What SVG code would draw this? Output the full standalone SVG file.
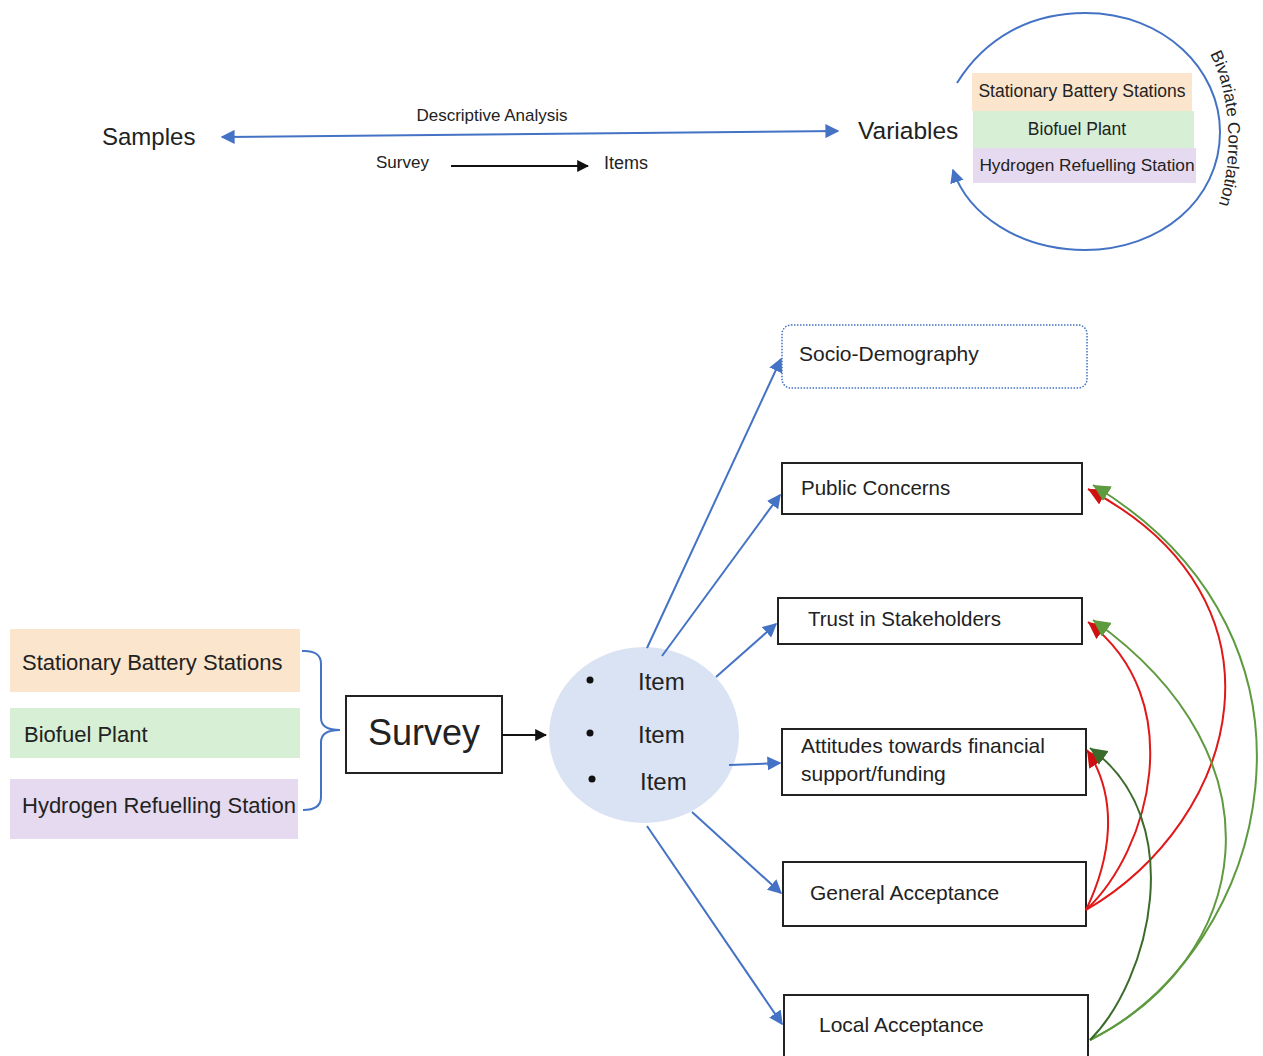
<svg xmlns="http://www.w3.org/2000/svg" width="1263" height="1056" viewBox="0 0 1263 1056">
  <style>
    text { font-family: "Liberation Sans", Arial, sans-serif; fill: #222; }
    .box { fill: #fff; stroke: #222; stroke-width: 2; }
    .blue { fill: none; stroke: #4472C4; stroke-width: 2; }
    .red { fill: none; stroke: #E01818; stroke-width: 2; }
    .green { fill: none; stroke: #5E9A3E; stroke-width: 2; }
    .dgreen { fill: none; stroke: #3A6B2A; stroke-width: 2; }
    .sbs { fill: #FBE5CC; }
    .bio { fill: #D6EFD5; }
    .hyd { fill: #E6DAF0; }
  </style>
  <defs>
    <marker id="ah-blue" viewBox="0 0 10 10" refX="9" refY="5" markerWidth="7" markerHeight="7" markerUnits="strokeWidth" orient="auto-start-reverse">
      <path d="M0,0 L10,5 L0,10 z" fill="#4472C4"/>
    </marker>
    <marker id="ah-black" viewBox="0 0 10 10" refX="9" refY="5" markerWidth="6" markerHeight="6" markerUnits="strokeWidth" orient="auto">
      <path d="M0,0 L10,5 L0,10 z" fill="#111"/>
    </marker>
    <marker id="ah-red" viewBox="0 0 10 10" refX="10" refY="5" markerWidth="8.5" markerHeight="8.5" markerUnits="strokeWidth" orient="auto">
      <path d="M0,0 L10,5 L0,10 z" fill="#D01010"/>
    </marker>
    <marker id="ah-green" viewBox="0 0 10 10" refX="10" refY="5" markerWidth="8.5" markerHeight="8.5" markerUnits="strokeWidth" orient="auto">
      <path d="M0,0 L10,5 L0,10 z" fill="#5E9A3E"/>
    </marker>
    <marker id="ah-dgreen" viewBox="0 0 10 10" refX="10" refY="5" markerWidth="8.5" markerHeight="8.5" markerUnits="strokeWidth" orient="auto">
      <path d="M0,0 L10,5 L0,10 z" fill="#3A6B2A"/>
    </marker>
    <path id="bivar-path" d="M1210,54 C1230,92 1238,165 1212,222"/>
  </defs>

  <!-- Overview strip -->
  <g id="samples"><text x="102" y="145" font-size="24">Samples</text></g>
  <g id="variables"><text x="858" y="139" font-size="24.5">Variables</text></g>
  <g id="survey-label"><text x="376" y="168" font-size="17">Survey</text></g>
  <g id="items-label"><text x="604" y="169" font-size="18">Items</text></g>

  <g id="variable-stack">
    <rect class="sbs" x="972" y="73" width="220" height="38"/>
    <rect class="bio" x="973" y="111" width="221" height="37"/>
    <rect class="hyd" x="973" y="148" width="223" height="35"/>
    <text x="1082" y="97" font-size="17.5" text-anchor="middle">Stationary Battery Stations</text>
    <text x="1077" y="135" font-size="17.5" text-anchor="middle">Biofuel Plant</text>
    <text x="1087" y="171" font-size="17.3" text-anchor="middle">Hydrogen Refuelling Station</text>
  </g>

  <g id="top-connectors">
    <line class="blue" x1="222" y1="137" x2="838" y2="131" marker-start="url(#ah-blue)" marker-end="url(#ah-blue)"/>
    <text x="492" y="121" font-size="17" text-anchor="middle">Descriptive Analysis</text>
    <line x1="451" y1="166" x2="588" y2="166" stroke="#111" stroke-width="2" marker-end="url(#ah-black)"/>
    <!-- bivariate loop round the variable stack -->
    <path class="blue" d="M957,83 C985,38 1030,13 1085,13 C1165,13 1220,70 1220,132 C1220,200 1160,250 1085,250 C1020,250 968,215 953,170" marker-end="url(#ah-blue)"/>
    <text font-size="17"><textPath href="#bivar-path">Bivariate Correlation</textPath></text>
  </g>

  <!-- Survey flow -->
  <g id="sample-list">
    <rect class="sbs" x="10" y="629" width="290" height="63"/>
    <rect class="bio" x="10" y="708" width="290" height="50"/>
    <rect class="hyd" x="10" y="779" width="288" height="60"/>
    <text x="22" y="670" font-size="22">Stationary Battery Stations</text>
    <text x="24" y="742" font-size="22">Biofuel Plant</text>
    <text x="22" y="813" font-size="22">Hydrogen Refuelling Station</text>
  </g>

  <g id="brace">
    <path class="blue" d="M302,651 Q321,650 321,664 L321,718 Q321,730 340,730 Q321,730 321,742 L321,797 Q321,810 303,810"/>
  </g>

  <g id="survey">
    <rect class="box" x="346" y="696" width="156" height="77"/>
    <text x="424" y="745" font-size="36" text-anchor="middle">Survey</text>
  </g>

  <g id="items">
    <ellipse cx="644" cy="735" rx="95" ry="88" fill="#DAE3F3"/>
    <circle cx="590" cy="680" r="3.5" fill="#111"/>
    <circle cx="590" cy="733" r="3.5" fill="#111"/>
    <circle cx="592" cy="779" r="3.5" fill="#111"/>
    <text x="638" y="690" font-size="24">Item</text>
    <text x="638" y="743" font-size="24">Item</text>
    <text x="640" y="790" font-size="24">Item</text>
  </g>

  <g id="socio-demography">
    <rect x="782" y="325" width="305" height="63" rx="9" fill="#fff" stroke="#4472C4" stroke-width="1.5" stroke-dasharray="1.5 1.5"/>
    <text x="799" y="361" font-size="21">Socio-Demography</text>
  </g>
  <g id="public-concerns">
    <rect class="box" x="782" y="463" width="300" height="51"/>
    <text x="801" y="495" font-size="20.5">Public Concerns</text>
  </g>
  <g id="trust">
    <rect class="box" x="778" y="598" width="304" height="46"/>
    <text x="808" y="626" font-size="20.5">Trust in Stakeholders</text>
  </g>
  <g id="attitudes">
    <rect class="box" x="782" y="729" width="304" height="66"/>
    <text x="801" y="753" font-size="21">Attitudes towards financial</text>
    <text x="801" y="781" font-size="21">support/funding</text>
  </g>
  <g id="general-acceptance">
    <rect class="box" x="783" y="862" width="303" height="64"/>
    <text x="810" y="900" font-size="21">General Acceptance</text>
  </g>
  <g id="local-acceptance">
    <rect class="box" x="784" y="995" width="304" height="70"/>
    <text x="819" y="1032" font-size="21">Local Acceptance</text>
  </g>

  <g id="connectors">
    <line x1="502" y1="735" x2="546" y2="735" stroke="#111" stroke-width="2" marker-end="url(#ah-black)"/>
    <line class="blue" x1="647" y1="648" x2="781" y2="359" marker-end="url(#ah-blue)"/>
    <line class="blue" x1="662" y1="656" x2="780" y2="495" marker-end="url(#ah-blue)"/>
    <line class="blue" x1="716" y1="677" x2="776" y2="624" marker-end="url(#ah-blue)"/>
    <line class="blue" x1="729" y1="765" x2="780" y2="763" marker-end="url(#ah-blue)"/>
    <line class="blue" x1="692" y1="812" x2="781" y2="893" marker-end="url(#ah-blue)"/>
    <line class="blue" x1="647" y1="826" x2="782" y2="1024" marker-end="url(#ah-blue)"/>

    <!-- correlations from General Acceptance -->
    <path class="red" d="M1086,910 C1240,820 1300,600 1088,489" marker-end="url(#ah-red)"/>
    <path class="red" d="M1086,910 C1150,850 1190,700 1088,622" marker-end="url(#ah-red)"/>
    <path class="red" d="M1086,910 C1110,860 1120,800 1087,750" marker-end="url(#ah-red)"/>
    <!-- correlations from Local Acceptance -->
    <path class="green" d="M1090,1040 C1270,950 1350,640 1093,485" marker-end="url(#ah-green)"/>
    <path class="green" d="M1090,1040 C1250,960 1290,760 1093,620" marker-end="url(#ah-green)"/>
    <path class="dgreen" d="M1090,1040 C1150,980 1190,820 1090,748" marker-end="url(#ah-dgreen)"/>
  </g>
</svg>
